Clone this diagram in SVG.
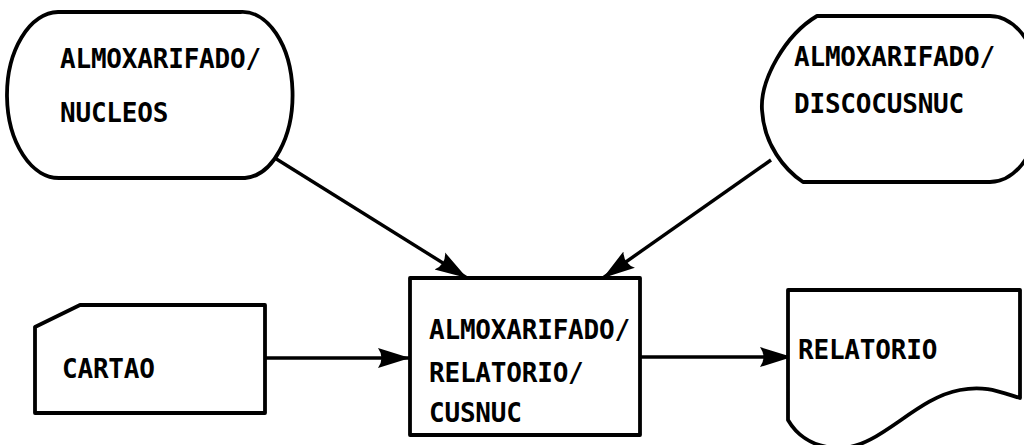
<svg xmlns="http://www.w3.org/2000/svg" width="1024" height="445" viewBox="0 0 1024 445">
<style>
.shape{fill:#fff;stroke:#000;stroke-width:3.8;stroke-linejoin:round}
.conn{fill:none;stroke:#000;stroke-width:3.4}
text{font-family:"DejaVu Sans Mono","Liberation Mono",monospace;font-weight:bold;font-size:26px;letter-spacing:-0.2px;fill:#000}
</style>
<defs>
<marker id="ah" markerUnits="userSpaceOnUse" markerWidth="34" markerHeight="24" refX="32" refY="11" orient="auto">
<path d="M0,1 Q7,11 0,21 L32,11 Z" fill="#000"/>
</marker>
</defs>
<rect width="1024" height="445" fill="#fff"/>
<g id="connectors">
<line class="conn" x1="270" y1="155" x2="467" y2="278" marker-end="url(#ah)"/>
<line class="conn" x1="771" y1="160" x2="603" y2="278" marker-end="url(#ah)"/>
<line class="conn" x1="265" y1="358" x2="410" y2="358" marker-end="url(#ah)"/>
<line class="conn" x1="640" y1="357" x2="792" y2="357" marker-end="url(#ah)"/>
</g>
<g id="nucleos">
<path class="shape" d="M58,12 L240,12 A50,83 0 0 1 245,178 L60,178 A52,83 0 0 1 58,12 Z"/>
<text x="60" y="68">ALMOXARIFADO/</text>
<text x="60" y="122">NUCLEOS</text>
</g>
<g id="discocusnuc">
<path class="shape" d="M817,16 L990,16 A52,83 0 0 1 990,182 L803,182 C785,170 764,145 762,110 C760,80 785,35 817,16 Z"/>
<text x="794" y="66">ALMOXARIFADO/</text>
<text x="794" y="113">DISCOCUSNUC</text>
</g>
<g id="cartao">
<path class="shape" d="M80,305 L265,305 L265,413 L35,413 L35,327 Z"/>
<text x="62" y="378">CARTAO</text>
</g>
<g id="programa">
<rect class="shape" x="410" y="278" width="230" height="157"/>
<text x="429" y="339">ALMOXARIFADO/</text>
<text x="429" y="382">RELATORIO/</text>
<text x="429" y="422">CUSNUC</text>
</g>
<g id="relatorio">
<path class="shape" d="M788,290 L1020,290 L1020,398 C1000,392 985,385 960,390 C915,398 880,448 840,448 C810,448 795,432 788,420 Z"/>
<text x="798" y="359">RELATORIO</text>
</g>
</svg>
